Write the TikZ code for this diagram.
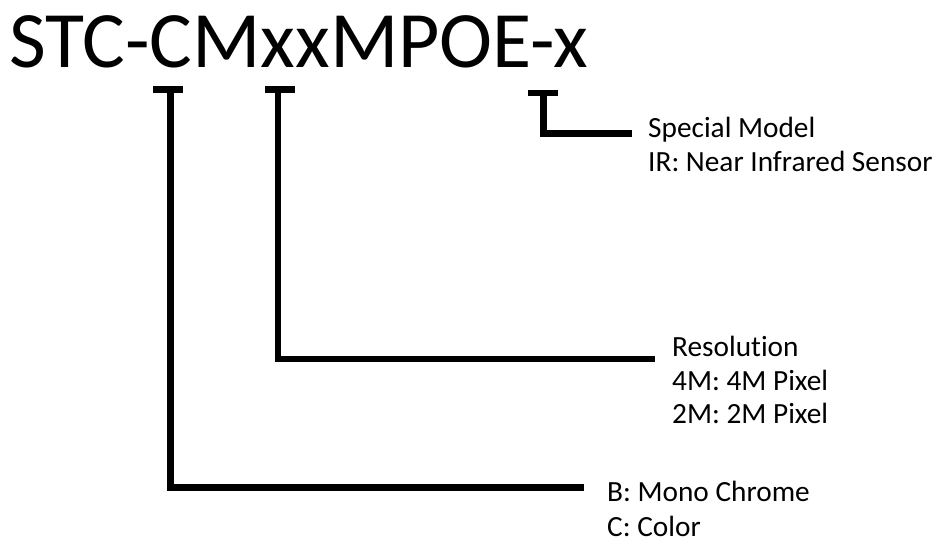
\documentclass[tikz,border=0pt]{standalone}
\usepackage{fontspec}
\setmainfont{Carlito}[Ligatures=NoCommon]
\begin{document}
\begin{tikzpicture}[x=1pt,y=1pt,
  bracket/.style={line width=6.5pt, line join=miter},
  lbl/.style={anchor=base west, inner sep=0pt, font=\fontsize{29.3}{32}\selectfont},
  titlefont/.style={anchor=base west, inner sep=0pt, font=\fontsize{80}{84}\selectfont}]
\useasboundingbox (0,0) rectangle (937,-542);
\node[titlefont] (title) at (9,-67) {STC-CMxxMPOE-x};
% marker 1
\coordinate (t1l) at (153,-89.5);
\coordinate (t1r) at (183,-89.5);
\coordinate (t1) at (170.5,-89.5);
\coordinate (c1) at (170.5,-487.5);
\coordinate (e1) at (584,-487.5);
% marker 2
\coordinate (t2l) at (265,-89.5);
\coordinate (t2r) at (295,-89.5);
\coordinate (t2) at (278,-89.5);
\coordinate (c2) at (278,-359);
\coordinate (e2) at (655,-359);
% marker 3
\coordinate (t3l) at (528,-93);
\coordinate (t3r) at (558,-93);
\coordinate (t3) at (543.3,-93);
\coordinate (c3) at (543.3,-133.3);
\coordinate (e3) at (632,-133.3);
\foreach \i in {1,2,3}{
  \draw[bracket] (t\i l) -- (t\i r);
  \draw[bracket] (t\i) -- (c\i) -- (e\i);
}
\node[lbl] (sm) at (648,-137.5) {Special Model};
\node[lbl] (ir) at (648,-171.5) {IR: Near Infrared Sensor};
\node[lbl] (res) at (672,-356.5) {Resolution};
\node[lbl] (r4) at (672,-390.5) {4M: 4M Pixel};
\node[lbl] (r2) at (672,-423.5) {2M: 2M Pixel};
\node[lbl] (bm) at (607,-501.5) {B: Mono Chrome};
\node[lbl] (cc) at (607,-536.5) {C: Color};
\end{tikzpicture}
\end{document}
